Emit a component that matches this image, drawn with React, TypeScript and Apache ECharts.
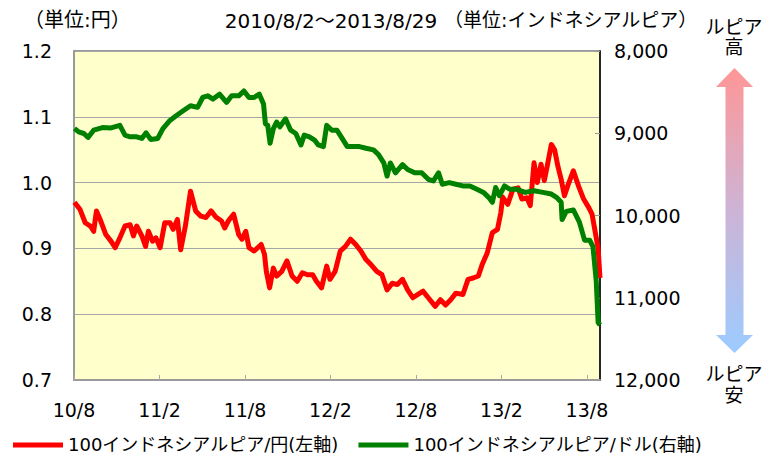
import React, { useEffect, useRef } from "react";
import * as echarts from "echarts";

// ---------- data ----------
const xTickLabels = ["10/8", "11/2", "11/8", "12/2", "12/8", "13/2", "13/8"];
const axisStartDate = "2010-08-01";
const lastTickDate = "2013-08-01";
const axisEndDate = "2013-08-29";

const seriesNames = ["100インドネシアルピア/円(左軸)", "100インドネシアルピア/ドル(右軸)"];

const jpyDates = [
  "2010-08-02", "2010-08-14", "2010-08-25", "2010-09-05", "2010-09-12", "2010-09-18", "2010-09-27",
  "2010-10-08", "2010-10-19", "2010-10-28", "2010-11-07", "2010-11-18", "2010-11-29", "2010-12-06",
  "2010-12-13", "2010-12-24", "2011-01-01", "2011-01-07", "2011-01-16", "2011-01-23", "2011-02-01",
  "2011-02-11", "2011-02-22", "2011-03-01", "2011-03-10", "2011-03-17", "2011-03-27", "2011-04-07",
  "2011-04-18", "2011-04-29", "2011-05-10", "2011-05-21", "2011-06-01", "2011-06-12", "2011-06-19",
  "2011-06-27", "2011-07-08", "2011-07-19", "2011-07-26", "2011-08-03", "2011-08-10", "2011-08-21",
  "2011-09-05", "2011-09-12", "2011-09-16", "2011-09-23", "2011-10-01", "2011-10-08", "2011-10-19",
  "2011-10-30", "2011-11-10", "2011-11-21", "2011-12-02", "2011-12-13", "2011-12-24", "2012-01-01",
  "2012-01-12", "2012-01-23", "2012-01-30", "2012-02-10", "2012-02-21", "2012-03-03", "2012-03-14",
  "2012-03-25", "2012-04-05", "2012-04-16", "2012-04-27", "2012-05-09", "2012-05-20", "2012-05-31",
  "2012-06-11", "2012-06-22", "2012-07-03", "2012-07-14", "2012-07-25", "2012-08-05", "2012-08-16",
  "2012-08-27", "2012-09-11", "2012-09-22", "2012-10-03", "2012-10-14", "2012-10-25", "2012-11-09",
  "2012-11-20", "2012-12-01", "2012-12-12", "2012-12-20", "2012-12-31", "2013-01-11", "2013-01-22",
  "2013-01-29", "2013-02-02", "2013-02-13", "2013-02-24", "2013-03-07", "2013-03-15", "2013-03-26",
  "2013-04-02", "2013-04-10", "2013-04-17", "2013-04-25", "2013-05-02", "2013-05-09", "2013-05-17",
  "2013-05-24", "2013-05-31", "2013-06-07", "2013-06-14", "2013-06-21", "2013-07-03", "2013-07-14",
  "2013-07-25", "2013-08-05", "2013-08-12", "2013-08-20", "2013-08-25", "2013-08-29",
];
const jpyValues = [
  0.970, 0.959, 0.939, 0.934, 0.926, 0.957, 0.942,
  0.921, 0.911, 0.901, 0.916, 0.934, 0.936, 0.919,
  0.934, 0.919, 0.903, 0.926, 0.911, 0.916, 0.901,
  0.939, 0.939, 0.929, 0.944, 0.898, 0.934, 0.987,
  0.957, 0.949, 0.947, 0.957, 0.947, 0.942, 0.931,
  0.942, 0.952, 0.921, 0.914, 0.926, 0.901, 0.896,
  0.906, 0.891, 0.865, 0.840, 0.870, 0.858, 0.865,
  0.881, 0.858, 0.850, 0.863, 0.860, 0.860, 0.850,
  0.840, 0.873, 0.853, 0.865, 0.896, 0.903, 0.914,
  0.906, 0.896, 0.883, 0.875, 0.865, 0.860, 0.837,
  0.847, 0.845, 0.853, 0.837, 0.825, 0.830, 0.835,
  0.825, 0.812, 0.822, 0.814, 0.822, 0.832, 0.830,
  0.853, 0.855, 0.858, 0.875, 0.893, 0.924, 0.929,
  0.954, 0.978, 0.967, 0.990, 0.992, 0.975, 0.977,
  0.965, 1.030, 1.000, 1.028, 1.003, 1.028, 1.058,
  1.050, 1.025, 1.005, 0.980, 0.995, 1.018, 0.995,
  0.975, 0.962, 0.952, 0.920, 0.900, 0.855,
];

const usdDates = [
  "2010-08-02", "2010-08-11", "2010-08-22", "2010-08-31", "2010-09-12", "2010-10-01", "2010-10-19",
  "2010-11-07", "2010-11-18", "2010-11-29", "2010-12-13", "2010-12-24", "2011-01-02", "2011-01-12",
  "2011-01-27", "2011-02-07", "2011-02-22", "2011-03-08", "2011-03-23", "2011-04-07", "2011-04-22",
  "2011-05-03", "2011-05-14", "2011-05-25", "2011-06-08", "2011-06-23", "2011-07-04", "2011-07-19",
  "2011-07-30", "2011-08-10", "2011-08-21", "2011-09-01", "2011-09-10", "2011-09-14", "2011-09-19",
  "2011-09-24", "2011-10-01", "2011-10-08", "2011-10-15", "2011-10-27", "2011-11-07", "2011-11-18",
  "2011-11-29", "2011-12-06", "2011-12-17", "2011-12-28", "2012-01-05", "2012-01-16", "2012-01-23",
  "2012-02-03", "2012-02-14", "2012-02-25", "2012-03-07", "2012-03-18", "2012-04-02", "2012-04-16",
  "2012-05-02", "2012-05-13", "2012-05-24", "2012-05-31", "2012-06-07", "2012-06-18", "2012-07-03",
  "2012-07-14", "2012-07-29", "2012-08-13", "2012-08-27", "2012-09-07", "2012-09-18", "2012-09-26",
  "2012-10-11", "2012-10-25", "2012-11-09", "2012-11-24", "2012-12-09", "2012-12-23", "2013-01-03",
  "2013-01-11", "2013-01-18", "2013-01-26", "2013-02-06", "2013-02-17", "2013-03-03", "2013-03-22",
  "2013-04-10", "2013-04-29", "2013-05-17", "2013-05-28", "2013-06-07", "2013-06-09", "2013-06-18",
  "2013-07-03", "2013-07-16", "2013-07-27", "2013-08-07", "2013-08-14", "2013-08-21", "2013-08-25",
  "2013-08-29",
];
const usdValues = [
  8943, 8983, 9003, 9051, 8963, 8931, 8935,
  8904, 9023, 9043, 9043, 9063, 8995, 9075,
  9063, 8943, 8844, 8784, 8724, 8665, 8685,
  8565, 8545, 8585, 8525, 8625, 8545, 8545,
  8486, 8565, 8565, 8525, 8645, 8884, 8904,
  9122, 8943, 8864, 8923, 8824, 8963, 9003,
  9142, 9023, 9043, 9083, 9142, 9162, 8904,
  8963, 8963, 9063, 9162, 9162, 9162, 9182,
  9202, 9262, 9361, 9520, 9361, 9481, 9381,
  9441, 9481, 9481, 9560, 9580, 9481, 9620,
  9600, 9620, 9640, 9640, 9680, 9719, 9779,
  9839, 9660, 9759, 9640, 9680, 9680, 9719,
  9699, 9719, 9739, 9779, 9839, 10050, 9950,
  9933, 10080, 10300, 10300, 10379, 10800, 11300,
  11330,
];

const leftMin = 0.7;
const leftMax = 1.2;
const leftStep = 0.1;
const rightMin = 8000;
const rightMax = 12000;
const rightStep = 1000;

// ---------- helpers ----------
const DAY = 86400000;
const toUTC = (s: string) => {
  const [y, m, d] = s.split("-").map(Number);
  return Date.UTC(y, m - 1, d);
};
const dayOf = (s: string) => (toUTC(s) - toUTC(axisStartDate)) / DAY;
const withCommas = (v: number) => String(Math.round(v)).replace(/\B(?=(\d{3})+(?!\d))/g, ",");

const FONT = "Verdana, 'DejaVu Sans', 'Noto Sans CJK JP', sans-serif";

export default function App() {
  const ref = useRef<HTMLDivElement>(null);

  useEffect(() => {
    if (!ref.current) return;
    const chart = echarts.init(ref.current, undefined, { renderer: "svg" });
    const xInterval = dayOf(lastTickDate) / (xTickLabels.length - 1);
    const xMax = dayOf(axisEndDate);

    const jpyData = jpyDates.map((d, i) => [dayOf(d), jpyValues[i]]);
    const usdData = usdDates.map((d, i) => [dayOf(d), usdValues[i]]);

    const arrow = {
      type: "polygon",
      shape: {
        points: [
          [734.5, 68], [753, 87], [743.5, 87], [743.5, 335], [753, 335],
          [734.5, 353], [716, 335], [725.5, 335], [725.5, 87], [716, 87],
        ],
      },
      style: {
        fill: new echarts.graphic.LinearGradient(0, 0, 0, 1, [
          { offset: 0, color: "#FF9696" },
          { offset: 0.5, color: "#CDB4D6" },
          { offset: 1, color: "#9CCBFF" },
        ]),
        stroke: "none",
      },
    };

    const txt = (text: string, x: number, y: number, align = "left", size = 20) => ({
      type: "text",
      x,
      y,
      style: {
        text,
        fill: "#000",
        font: `${size}px ${FONT}`,
        textAlign: align,
        textVerticalAlign: "middle",
      },
    });

    chart.setOption({
      animation: false,
      textStyle: { fontFamily: FONT },
      grid: {
        left: 74,
        right: 176,
        top: 51,
        bottom: 77,
        show: true,
        backgroundColor: "#FFFFCC",
        borderColor: "#9A9A9A",
        borderWidth: 2,
      },
      legend: {
        left: 8,
        top: 431,
        itemWidth: 50,
        itemHeight: 5,
        itemGap: 20,
        icon: "rect",
        textStyle: { fontSize: 18, color: "#000", fontFamily: FONT },
        data: seriesNames,
      },
      xAxis: {
        type: "value",
        min: 0,
        max: xMax,
        interval: xInterval,
        axisLine: { show: true, lineStyle: { color: "#9A9A9A", width: 2 } },
        axisTick: { show: true, inside: true, length: 5, lineStyle: { color: "#AAAAAA" } },
        splitLine: { show: false },
        axisLabel: {
          showMaxLabel: false,
          margin: 20,
          fontSize: 19,
          color: "#000",
          fontFamily: FONT,
          formatter: (v: number) => {
            const i = Math.round(v / xInterval);
            return Math.abs(v - i * xInterval) < 0.5 ? xTickLabels[i] ?? "" : "";
          },
        },
      },
      yAxis: [
        {
          type: "value",
          position: "left",
          min: leftMin,
          max: leftMax,
          interval: leftStep,
          axisLine: { show: true, lineStyle: { color: "#9A9A9A", width: 2 } },
          axisTick: { show: false },
          splitLine: { show: true, lineStyle: { color: "#A6A6A6", width: 1 } },
          axisLabel: {
            margin: 22,
            fontSize: 19,
            color: "#000",
            fontFamily: FONT,
            formatter: (v: number) => v.toFixed(1),
          },
        },
        {
          type: "value",
          position: "right",
          inverse: true,
          min: rightMin,
          max: rightMax,
          interval: rightStep,
          axisLine: { show: true, lineStyle: { color: "#000", width: 1.5 } },
          axisTick: { show: true, inside: true, length: 5, lineStyle: { color: "#999" } },
          splitLine: { show: false },
          axisLabel: {
            margin: 14,
            fontSize: 19,
            color: "#000",
            fontFamily: FONT,
            formatter: (v: number) => withCommas(v),
          },
        },
      ],
      series: [
        {
          name: seriesNames[0],
          type: "line",
          yAxisIndex: 0,
          data: jpyData,
          showSymbol: false,
          symbol: "none",
          color: "#FF0000",
          lineStyle: { color: "#FF0000", width: 5, join: "round" },
        },
        {
          name: seriesNames[1],
          type: "line",
          yAxisIndex: 1,
          data: usdData,
          showSymbol: false,
          symbol: "none",
          color: "#008000",
          lineStyle: { color: "#008000", width: 5, join: "round" },
        },
      ],
      graphic: [
        txt("（単位:円）", 24, 20),
        txt("2010/8/2～2013/8/29", 331, 21, "center"),
        txt("（単位:インドネシアルピア）", 444, 20, "left", 19),
        txt("ルピア", 734, 27, "center", 19),
        txt("高", 734, 47, "center", 19),
        arrow,
        txt("ルピア", 734, 374, "center", 19),
        txt("安", 734, 395, "center", 19),
      ],
    });

    return () => chart.dispose();
  }, []);

  return (
    <div
      ref={ref}
      style={{ position: "fixed", left: 0, top: 0, width: 776, height: 457, background: "#fff" }}
    />
  );
}
